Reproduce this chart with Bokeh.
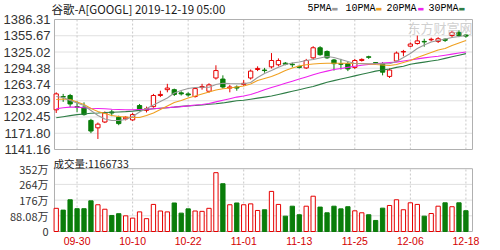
from bokeh.plotting import figure
from bokeh.layouts import column
from bokeh.models import (Range1d, FixedTicker, Label, ColumnDataSource, PrintfTickFormatter,
                          CustomJSTickFormatter, AllLabels)
from bokeh.embed import file_html
from bokeh.resources import INLINE

title_text = "谷歌-A[GOOGL] 2019-12-19 05:00"
volume_title = "成交量"
last_volume = 1166733

dates = ["09-25", "09-26", "09-27", "09-30", "10-01", "10-02", "10-03", "10-04", "10-07", "10-08",
         "10-09", "10-10", "10-11", "10-14", "10-15", "10-16", "10-17", "10-18", "10-21", "10-22",
         "10-23", "10-24", "10-25", "10-28", "10-29", "10-30", "10-31", "11-01", "11-04", "11-05",
         "11-06", "11-07", "11-08", "11-11", "11-12", "11-13", "11-14", "11-15", "11-18", "11-19",
         "11-20", "11-21", "11-22", "11-25", "11-26", "11-27", "11-29", "12-02", "12-03", "12-04",
         "12-05", "12-06", "12-09", "12-10", "12-11", "12-12", "12-13", "12-16", "12-17", "12-18"]

date_ticks = ["09-30", "10-10", "10-22", "11-01", "11-13", "11-25", "12-06", "12-18"]

opens = [1216, 1241, 1243, 1222, 1221, 1196, 1182, 1193, 1212, 1202,
         1199, 1197, 1224, 1215, 1222, 1243, 1254, 1254, 1248, 1246,
         1241, 1258, 1251, 1276, 1274, 1257, 1259, 1264, 1276, 1292,
         1291, 1297, 1301, 1304, 1302, 1298, 1295, 1314, 1333, 1326,
         1310, 1303, 1303, 1296, 1309, 1316, 1305, 1303, 1279, 1308,
         1325, 1336, 1341, 1345, 1348, 1345, 1349, 1356, 1362, 1357]
highs = [1249, 1246, 1246, 1232, 1230, 1199, 1192, 1213, 1216, 1205,
         1204, 1210, 1227, 1222, 1246, 1252, 1265, 1256, 1251, 1249,
         1258, 1265, 1266, 1300, 1281, 1263, 1262, 1272, 1292, 1298,
         1295, 1323, 1313, 1306, 1305, 1299, 1312, 1336, 1336, 1328,
         1312, 1312, 1306, 1312, 1313, 1318, 1306, 1306, 1294, 1326,
         1329, 1343, 1356, 1350, 1352, 1353, 1351, 1365, 1366, 1358]
lows = [1210, 1231, 1221, 1212, 1205, 1172, 1161, 1191, 1204, 1187,
        1196, 1195, 1213, 1211, 1220, 1240, 1249, 1242, 1243, 1241,
        1239, 1254, 1248, 1273, 1256, 1249, 1252, 1261, 1273, 1289,
        1286, 1294, 1298, 1300, 1296, 1294, 1293, 1312, 1318, 1312,
        1290, 1292, 1289, 1293, 1307, 1312, 1303, 1281, 1276, 1306,
        1317, 1334, 1339, 1335, 1345, 1342, 1344, 1352, 1353, 1352]
closes = [1246, 1240, 1227, 1221, 1207, 1176, 1189, 1210, 1210, 1190,
          1202, 1207, 1217, 1218, 1243, 1245, 1257, 1245, 1246, 1244,
          1256, 1260, 1263, 1290, 1259, 1259, 1257, 1266, 1289, 1294,
          1290, 1309, 1309, 1302, 1301, 1296, 1309, 1333, 1320, 1314,
          1303, 1302, 1293, 1309, 1311, 1315, 1304, 1287, 1291, 1323,
          1326, 1340, 1346, 1344, 1349, 1350, 1347, 1362, 1356, 1355]

volumes = [1300000, 1200000, 1780000, 1280000, 1280000, 1720000, 1500000, 1250000, 900000, 1000000,
           880000, 750000, 1100000, 720000, 1520000, 1150000, 1100000, 1600000, 1030000, 1270000,
           1150000, 1130000, 1300000, 3300000, 2680000, 1500000, 1600000, 1500000, 1550000, 1180000,
           1220000, 2250000, 1520000, 860000, 1420000, 940000, 1420000, 1980000, 1370000, 1050000,
           1420000, 1270000, 1390000, 1160000, 1050000, 940000, 620000, 1310000, 1460000, 1780000,
           1220000, 1610000, 1520000, 860000, 1010000, 1420000, 1610000, 1390000, 1610000, 1166733]
vol_up = [1, 0, 0, 0, 0, 0, 1, 1, 0, 0,
          1, 1, 1, 1, 1, 1, 1, 0, 0, 0,
          1, 1, 1, 1, 0, 1, 0, 1, 1, 1,
          0, 1, 1, 0, 0, 0, 1, 1, 0, 0,
          0, 0, 0, 1, 1, 0, 0, 0, 1, 1,
          1, 1, 1, 0, 1, 1, 0, 1, 0, 0]

ma5 = [1241.1, 1239.2, 1233.6, 1228.9, 1224.1, 1214.7, 1205.3, 1198.7, 1195.8, 1195.8,
       1197.7, 1203.4, 1211.9, 1218.5, 1225.1, 1231.7, 1238.3, 1247.7, 1252.4, 1256.2,
       1258.1, 1258.6, 1258.6, 1263.7, 1266.2, 1265.6, 1265.1, 1265.1, 1267.5, 1277.0,
       1284.5, 1290.1, 1296.4, 1301.4, 1304.3, 1306.2, 1309.0, 1310.9, 1313.7, 1316.5,
       1314.6, 1310.9, 1307.1, 1303.3, 1302.8, 1302.8, 1302.8, 1302.8, 1302.8, 1307.1,
       1314.6, 1322.2, 1331.6, 1338.2, 1343.9, 1346.7, 1349.5, 1352.4, 1354.3, 1356.1]
ma10 = [1235.4, 1236.4, 1235.4, 1230.7, 1226.0, 1218.5, 1212.8, 1209.0, 1205.3, 1203.4,
        1202.4, 1201.5, 1201.5, 1205.3, 1210.0, 1216.6, 1223.2, 1229.8, 1233.6, 1238.3,
        1242.0, 1245.8, 1249.6, 1253.4, 1255.6, 1257.1, 1259.0, 1260.9, 1264.7, 1271.3,
        1275.1, 1278.8, 1283.9, 1290.1, 1294.9, 1298.6, 1300.9, 1302.4, 1303.3, 1303.9,
        1303.9, 1303.9, 1303.9, 1303.3, 1303.3, 1302.4, 1301.4, 1300.5, 1299.6, 1301.4,
        1305.2, 1309.0, 1314.6, 1319.4, 1324.1, 1328.8, 1331.6, 1337.3, 1342.0, 1346.7]
ma20 = [1218, 1220, 1221, 1221, 1220, 1219, 1218.5, 1218, 1217, 1216.5,
        1216, 1216, 1216.5, 1217, 1218, 1219, 1220, 1221, 1222, 1223.5,
        1225, 1226, 1228, 1231, 1234, 1237, 1240, 1242, 1245, 1249,
        1254, 1258, 1262, 1266, 1270, 1274, 1278, 1282, 1286, 1289,
        1292, 1294, 1296, 1298, 1300, 1301.5, 1303, 1304, 1305, 1306,
        1308, 1310, 1312, 1314, 1315.5, 1317, 1319, 1321, 1323, 1325]
ma30 = [1201, 1203, 1205, 1207, 1208, 1209.5, 1210, 1211, 1211.5, 1212,
        1212.5, 1213.5, 1215, 1216.5, 1218, 1219, 1220, 1221, 1222.5, 1223.5,
        1224, 1225, 1226.5, 1227.5, 1229, 1231, 1233, 1234, 1236, 1238,
        1240, 1242, 1245, 1248, 1251, 1254, 1257, 1260, 1264, 1268,
        1271, 1274, 1277, 1280, 1283, 1286, 1289, 1291, 1293, 1296,
        1298, 1302, 1304, 1306, 1308, 1310, 1313, 1316, 1319, 1322]

price_ticks = [1141.16, 1171.80, 1202.45, 1233.09, 1263.74, 1294.38, 1325.02, 1355.67, 1386.31]
vol_ticks = [0, 880800, 1761600, 2642400, 3523200]
vol_tick_labels = ["0", "88.08万", "176万", "264万", "352万"]
ma_names = ["5PMA", "10PMA", "20PMA", "30PMA"]

RED = "#e60000"
GREEN = "#0a7d0a"
MA_COLORS = ["#9a9a9a", "#f0a020", "#ee22ee", "#2e7d46"]
GRID = "#e0e0e0"
VGRID = "#c8c8c8"
FRAME = "#b0b0b0"
TEXT = "#1a1a1a"

n = len(dates)
idx = list(range(n))
tick_idx = [dates.index(d) for d in date_ticks]

# ---- layout geometry (pixels) ----
W = 500
FRAME_L, FRAME_R = 50, 25
BOX_PAD = 3
X0, X1 = -0.25, 59.95
upx = (X1 - X0) / (W - FRAME_L - FRAME_R - 2 * BOX_PAD)
xr = Range1d(X0 - BOX_PAD * upx, X1 + BOX_PAD * upx)

H1 = 157
P_TOP, P_BOT = 19, 149
ppx = (price_ticks[-1] - price_ticks[0]) / (P_BOT - P_TOP)
yr1 = Range1d(price_ticks[0] - (H1 - P_BOT) * ppx, price_ticks[-1] + P_TOP * ppx)

H2 = 93
V_TOP, V_BOT, F2_BOT = 11.2, 74, 78
vpx = vol_ticks[-1] / (V_BOT - V_TOP)
yr2 = Range1d(-(F2_BOT - V_BOT) * vpx, vol_ticks[-1] + V_TOP * vpx)

def base_fig(h, yr, bottom_border):
    p = figure(width=W, height=h, x_range=xr, y_range=yr,
               output_backend="svg", toolbar_location=None,
               min_border_left=FRAME_L, min_border_right=FRAME_R,
               min_border_top=0, min_border_bottom=bottom_border)
    p.background_fill_color = "white"
    p.border_fill_color = "white"
    p.outline_line_color = None
    p.xgrid.visible = False
    p.ygrid.visible = False
    ax = p.yaxis[0]
    ax.axis_line_color = None
    ax.major_tick_line_color = None
    ax.minor_tick_line_color = None
    ax.major_tick_out = 0
    ax.major_tick_in = 0
    ax.major_label_text_color = "#333333"
    ax.major_label_policy = AllLabels()
    return p

def panel_box(p, y0, y1, ticks):
    p.segment(x0=[X0] * len(ticks), y0=ticks, x1=[X1] * len(ticks), y1=ticks,
              line_color=GRID, line_width=1)
    p.segment(x0=tick_idx, y0=[y0] * len(tick_idx), x1=tick_idx, y1=[y1] * len(tick_idx),
              line_color=VGRID, line_width=1, line_dash="2 2")
    p.quad(left=[X0], right=[X1], bottom=[y0], top=[y1],
           fill_color=None, line_color=FRAME, line_width=1)

# ---------- price panel ----------
p1 = base_fig(H1, yr1, 0)
p1.xaxis.visible = False
p1.yaxis.ticker = FixedTicker(ticks=price_ticks)
p1.yaxis.formatter = PrintfTickFormatter(format="%.2f")
p1.yaxis.major_label_text_font = "Liberation Sans"
p1.yaxis.major_label_text_font_size = "13px"
p1.yaxis.major_label_standoff = 1
panel_box(p1, price_ticks[0], price_ticks[-1], price_ticks[1:-1])

up = [i for i in idx if closes[i] >= opens[i]]
dn = [i for i in idx if closes[i] < opens[i]]

def src(ids):
    return ColumnDataSource(dict(
        x=ids, h=[highs[i] for i in ids], l=[lows[i] for i in ids],
        top=[max(opens[i], closes[i]) for i in ids],
        bot=[min(opens[i], closes[i]) for i in ids],
    ))

su, sd = src(up), src(dn)
p1.segment("x", "h", "x", "l", source=su, color=RED, line_width=1)
p1.segment("x", "h", "x", "l", source=sd, color=GREEN, line_width=1)
p1.vbar(x="x", top="top", bottom="bot", width=0.62, source=su,
        fill_color="white", line_color=RED, line_width=1)
p1.vbar(x="x", top="top", bottom="bot", width=0.62, source=sd,
        fill_color=GREEN, line_color=GREEN, line_width=1)

for ma, col in zip([ma30, ma20, ma10, ma5], MA_COLORS[::-1]):
    p1.line(idx, ma, line_color=col, line_width=1.1)

HEAD_Y = H1 - 8
p1.add_layout(Label(x=0, y=HEAD_Y, x_units="screen", y_units="screen", text=title_text,
                    text_font="Noto Sans CJK SC", text_font_size="11.5px",
                    text_color=TEXT, text_baseline="middle"))

leg_x = [256, 294, 335, 377]
mark_x = [280, 324, 366, 407]
for name, lx, mx, col in zip(ma_names, leg_x, mark_x, MA_COLORS):
    p1.add_layout(Label(x=lx, y=HEAD_Y, x_units="screen", y_units="screen", text=name,
                        text_font="Liberation Mono", text_font_size="10px",
                        text_color="#000000", text_baseline="middle"))
    p1.add_layout(Label(x=mx, y=HEAD_Y, x_units="screen", y_units="screen", text="▬",
                        text_font="DejaVu Sans", text_font_size="7px",
                        text_color=col, text_baseline="middle"))

p1.add_layout(Label(x=356, y=H1 - 27, x_units="screen", y_units="screen", text="东方财富网",
                    text_font="Noto Sans CJK SC", text_font_size="13px",
                    text_color="#bbbbbb", text_alpha=0.7, text_baseline="middle"))

# ---------- volume panel ----------
p2 = base_fig(H2, yr2, H2 - F2_BOT)
# a zero tick is nudged by one share so the renderer does not skip it
p2.yaxis.ticker = FixedTicker(ticks=[t if t else 1 for t in vol_ticks])
p2.yaxis.formatter = CustomJSTickFormatter(
    args=dict(vt=vol_ticks, vl=vol_tick_labels),
    code="""
        let best = 0;
        for (let i = 0; i < vt.length; i++) {
            if (Math.abs(vt[i] - tick) < Math.abs(vt[best] - tick)) best = i;
        }
        return String(vl[best]);
    """)
p2.yaxis.major_label_text_font = "Noto Sans CJK SC"
p2.yaxis.major_label_text_font_size = "11px"
p2.yaxis.major_label_standoff = 3
panel_box(p2, vol_ticks[0], vol_ticks[-1], vol_ticks[1:-1])

xa = p2.xaxis[0]
xa.ticker = FixedTicker(ticks=tick_idx)
xa.major_label_overrides = {i: dates[i] for i in tick_idx}
xa.axis_line_color = None
xa.major_tick_line_color = None
xa.minor_tick_line_color = None
xa.major_tick_out = 0
xa.major_tick_in = 0
xa.major_label_text_color = "#d40000"
xa.major_label_text_font = "Liberation Sans"
xa.major_label_text_font_size = "10.5px"
xa.major_label_standoff = 1

vu = [i for i in idx if vol_up[i]]
vd = [i for i in idx if not vol_up[i]]
p2.vbar(x=vu, top=[volumes[i] for i in vu], bottom=0, width=0.62,
        fill_color="white", line_color=RED, line_width=1)
p2.vbar(x=vd, top=[volumes[i] for i in vd], bottom=0, width=0.62,
        fill_color=GREEN, line_color=GREEN, line_width=1)

p2.add_layout(Label(x=2, y=F2_BOT - 5.5, x_units="screen", y_units="screen",
                    text=f"{volume_title}:{last_volume}",
                    text_font="Noto Sans CJK SC", text_font_size="10.5px",
                    text_color=TEXT, text_baseline="middle"))

layout = column(p1, p2, spacing=0)
open("out.html", "w").write(file_html(layout, INLINE))
